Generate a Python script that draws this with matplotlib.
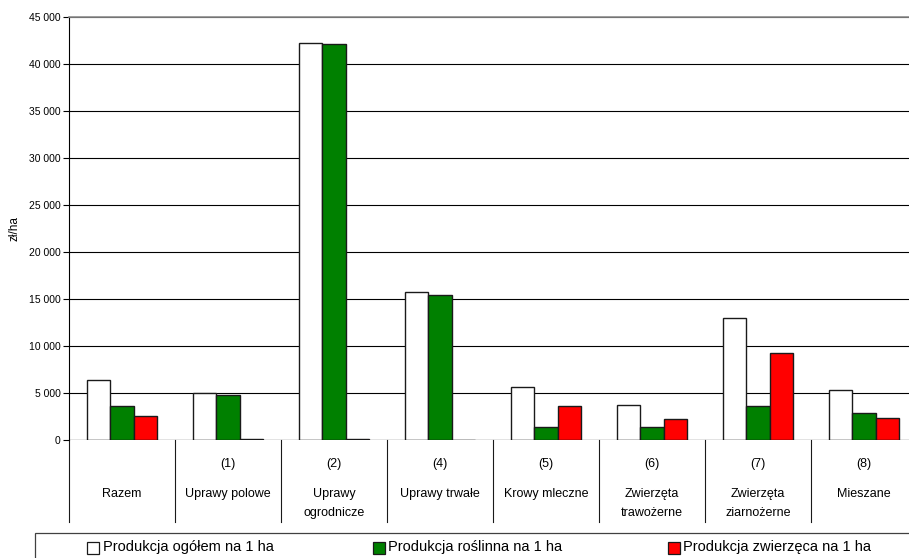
import matplotlib
matplotlib.use("Agg")
import matplotlib.pyplot as plt
from matplotlib.patches import Rectangle
from matplotlib.lines import Line2D
from matplotlib.ticker import FuncFormatter, MultipleLocator
import matplotlib.transforms as mtransforms
import numpy as np

plt.rcParams['font.family'] = ['Liberation Sans', 'DejaVu Sans']

# Farm types and production value per hectare (zł/ha)
group_numbers = ["", "(1)", "(2)", "(4)", "(5)", "(6)", "(7)", "(8)"]
group_names = ["Razem", "Uprawy polowe", "Uprawy\nogrodnicze", "Uprawy trwałe",
               "Krowy mleczne", "Zwierzęta\ntrawożerne", "Zwierzęta\nziarnożerne", "Mieszane"]
total_per_ha = [6380, 5030, 42270, 15780, 5600, 3690, 13010, 5280]
crop_per_ha = [3650, 4790, 42090, 15390, 1420, 1350, 3620, 2840]
animal_per_ha = [2590, 150, 100, 50, 3620, 2200, 9290, 2300]

series_labels = ["Produkcja ogółem na 1 ha", "Produkcja roślinna na 1 ha",
                 "Produkcja zwierzęca na 1 ha"]
series_colors = ["#FFFFFF", "#008000", "#FF0000"]

W, H = 909, 558
fig = plt.figure(figsize=(W / 100, H / 100), dpi=100)

# plot area in pixels
left_px, right_px, top_px, bottom_px = 69, 917, 17, 440
ax = fig.add_axes([left_px / W, (H - bottom_px) / H,
                   (right_px - left_px) / W, (bottom_px - top_px) / H])

x = np.arange(len(group_names))
bw = 1 / 4.5
for k, (vals, col) in enumerate(zip([total_per_ha, crop_per_ha, animal_per_ha], series_colors)):
    ax.bar(x + (k - 1) * bw, vals, width=bw, color=col, edgecolor="#1a1a1a",
           linewidth=1.0, zorder=3)

ax.set_xlim(-0.5, len(group_names) - 0.5)
ax.set_ylim(0, 45000)
ax.yaxis.set_major_locator(MultipleLocator(5000))
ax.yaxis.set_major_formatter(FuncFormatter(lambda v, p: f"{int(v):,}".replace(",", " ")))
ax.tick_params(axis="y", direction="out", length=4, width=0.8, labelsize=7.5,
               pad=2, colors="black")
ax.set_xticks([])
ax.grid(axis="y", color="black", linewidth=0.8, zorder=0)

for s in ["right", "bottom"]:
    ax.spines[s].set_visible(False)
ax.spines["top"].set_color("#8c8c8c")
ax.spines["top"].set_linewidth(1.2)
ax.spines["left"].set_color("black")
ax.spines["left"].set_linewidth(0.8)
ax.axhline(0, color="black", linewidth=0.8, zorder=4)

ax.set_ylabel("zł/ha", fontsize=8.5)
ax.yaxis.set_label_coords(-(left_px - 21) / (right_px - left_px), 0.5)

# category table below the axis
axis_h = bottom_px - top_px
trans = mtransforms.blended_transform_factory(ax.transData, ax.transAxes)
sep_bottom = -(522 - bottom_px) / axis_h
for b in np.arange(-0.5, len(group_names) - 0.5, 1.0):
    ax.add_line(Line2D([b, b], [0, sep_bottom], transform=trans, color="#1a1a1a",
                       linewidth=0.8, clip_on=False))

for i, (num, name) in enumerate(zip(group_numbers, group_names)):
    if num:
        ax.text(i, -(464 - bottom_px) / axis_h, num, transform=trans, ha="center",
                va="center", fontsize=9)
    for j, line in enumerate(name.split("\n")):
        ax.text(i, -(494 + 19 * j - bottom_px) / axis_h, line, transform=trans,
                ha="center", va="center", fontsize=9)

# legend band along the bottom edge
fig.patches.append(Rectangle((35 / W, -0.05), 1.0, (H - 533) / H + 0.05,
                             transform=fig.transFigure, facecolor="white",
                             edgecolor="#404040", linewidth=0.9))
square_x = [87, 373, 668]
text_x = [103, 388, 683]
for sx, tx, lab, col in zip(square_x, text_x, series_labels, series_colors):
    fig.patches.append(Rectangle((sx / W, (H - 554) / H), 12 / W, 12 / H,
                                 transform=fig.transFigure, facecolor=col,
                                 edgecolor="#1a1a1a", linewidth=0.9))
    fig.text(tx / W, (H - 547.5) / H, lab, ha="left", va="center", fontsize=10.5)

fig.savefig("out.png", dpi=100)
